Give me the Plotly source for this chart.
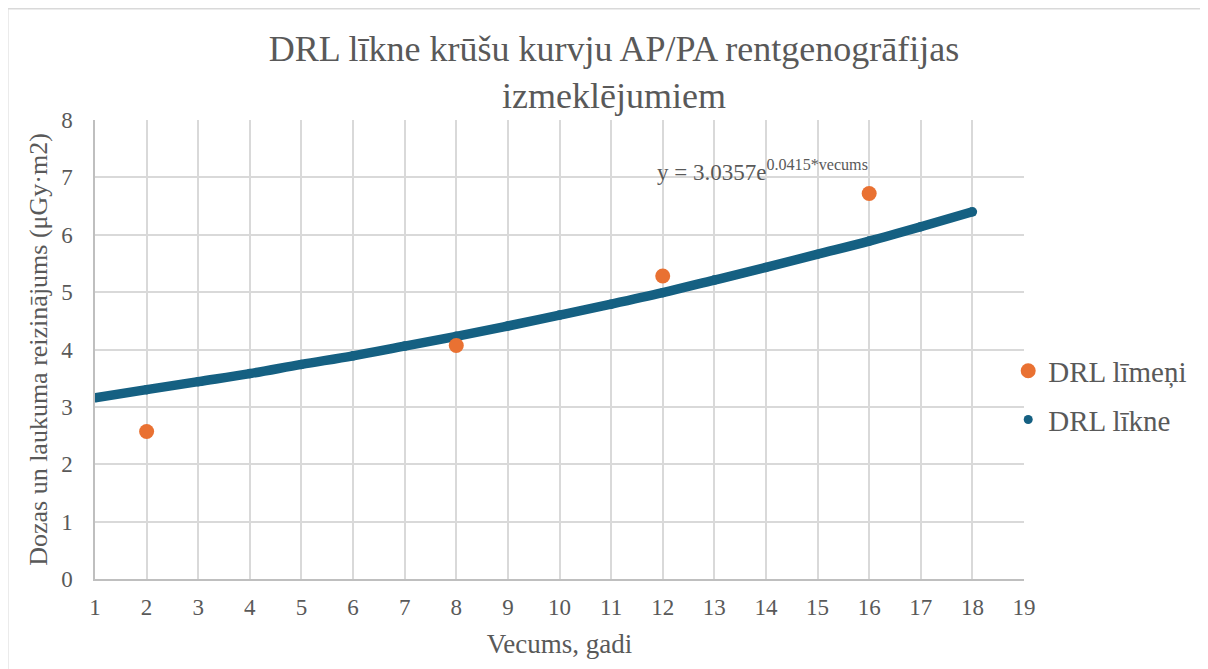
import plotly.graph_objects as go

# DRL līmeņi (measured levels)
age_levels = [2, 8, 12, 16]
drl_levels = [2.57, 4.07, 5.28, 6.72]

# DRL līkne (fitted curve at each year)
age_curve = [1, 2, 3, 4, 5, 6, 7, 8, 9, 10, 11, 12, 13, 14, 15, 16, 17, 18]
drl_curve = [3.16, 3.30, 3.44, 3.58, 3.74, 3.89, 4.06, 4.23, 4.41, 4.60,
             4.79, 4.99, 5.21, 5.43, 5.66, 5.89, 6.14, 6.40]

x_ticks = list(range(1, 20))
y_ticks = list(range(0, 9))

orange = "#E97132"
blue = "#156082"
txt = "#595959"
font = "Liberation Serif, Times New Roman, serif"

fig = go.Figure()

fig.add_trace(go.Scatter(
    x=age_curve, y=drl_curve, mode="lines+markers", line_shape="spline",
    line=dict(color=blue, width=9.5), marker=dict(color=blue, size=9.5),
    showlegend=False, hoverinfo="x+y"))

fig.add_trace(go.Scatter(
    x=age_levels, y=drl_levels, mode="markers", name="DRL līmeņi",
    legendgroup="a", marker=dict(color=orange, size=15)))

# legend entry for the curve
fig.add_trace(go.Scatter(
    x=[None], y=[None], mode="markers", name="DRL līkne",
    legendgroup="b", marker=dict(color=blue, size=9)))

fig.add_annotation(
    x=11.85, y=7.12, xref="x", yref="y", showarrow=False, xanchor="left",
    text="y = 3.0357e<sup>0.0415*vecums</sup>",
    font=dict(family=font, size=23, color=txt))

# light frame round the chart
fig.add_shape(type="rect", xref="paper", yref="paper",
              x0=-0.0939, x1=1.5, y0=-0.5, y1=1.2424,
              line=dict(color="#D9D9D9", width=1.5), layer="below")

fig.update_layout(
    width=1200, height=661,
    margin=dict(l=87, r=184, t=112, b=90),
    paper_bgcolor="white", plot_bgcolor="white",
    font=dict(family=font, color=txt),
    title=dict(text="DRL līkne krūšu kurvju AP/PA rentgenogrāfijas<br>izmeklējumiem",
               x=0.505, xanchor="center", y=0.92, yanchor="top",
               font=dict(family=font, size=36, color=txt)),
    legend=dict(x=0.983, xanchor="left", y=0.40, yanchor="middle",
                font=dict(family=font, size=29, color=txt),
                itemsizing="trace", tracegroupgap=8, bgcolor="rgba(0,0,0,0)"),
)

fig.update_xaxes(
    range=[1, 19], tickvals=x_ticks, showgrid=True, gridcolor="#D9D9D9",
    gridwidth=1.5, showline=True, linecolor="#BFBFBF", linewidth=1.5,
    zeroline=False, ticks="", ticklabelstandoff=7,
    tickfont=dict(family=font, size=23, color=txt),
    title=dict(text="Vecums, gadi", font=dict(family=font, size=27, color=txt),
               standoff=15))

fig.update_yaxes(
    range=[0, 8], tickvals=y_ticks, showgrid=True, gridcolor="#D9D9D9",
    gridwidth=1.5, showline=True, linecolor="#BFBFBF", linewidth=1.5,
    zeroline=False, ticks="", ticklabelstandoff=16,
    tickfont=dict(family=font, size=23, color=txt),
    title=dict(text="Dozas un laukuma reizinājums (μGy·m2)",
               font=dict(family=font, size=26, color=txt), standoff=6))

fig.write_html("out.html")
